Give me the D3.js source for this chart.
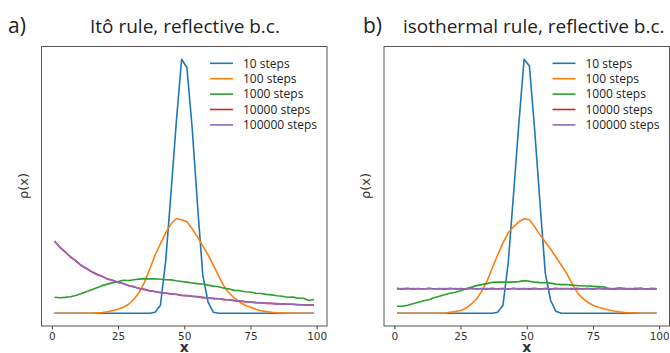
<!DOCTYPE html>
<html>
<head>
<meta charset="utf-8">
<script src="https://cdn.jsdelivr.net/npm/d3@7"></script>
<style>
  body { margin: 0; background: #fff; }
  svg { display: block; }
</style>
</head>
<body>
<div id="container"></div>
<script>
/* CONSTANTS AND GLOBALS */
const width = 670;
const height = 353;

/* DATA (rho in arbitrary units, the plot has no y ticks) */
const xs = [1, 3, 5, 7, 9, 11, 13, 15, 17, 19, 21, 23, 25, 27, 29, 31, 33, 35, 37, 39,
  41, 43, 45, 47, 49, 51, 53, 55, 57, 59, 61, 63, 65, 67, 69, 71, 73, 75, 77, 79,
  81, 83, 85, 87, 89, 91, 93, 95, 97, 99];
const seriesNames = ["10 steps", "100 steps", "1000 steps", "10000 steps", "100000 steps"];
const colors = ["#1f77b4", "#ff7f0e", "#2ca02c", "#d62728", "#9467bd"];
const xTicks = [0, 25, 50, 75, 100];

// panel a) Itô rule
const itoSteps10 = [0, 0, 0, 0, 0, 0, 0, 0, 0, 0, 0, 0, 0, 0, 0, 0, 0, 0, 0,
  1, 8, 52, 120, 190, 252.7, 244.4, 184, 108, 38, 11, 1,
  0, 0, 0, 0, 0, 0, 0, 0, 0, 0, 0, 0, 0, 0, 0, 0, 0, 0, 0];
const itoSteps100 = [0, 0, 0, 0, 0, 0, 0, 0,
  0.4, 0.8, 1.5, 2.7, 4, 6, 9, 14, 21, 31, 44, 58, 69, 80, 89, 94, 93, 91, 84, 76, 67, 58,
  48, 37, 27, 20, 15, 11, 8, 6, 4, 2.5, 1.7, 1, 0.6, 0.3, 0.2, 0.1, 0, 0, 0, 0];
const itoSteps1000 = [16, 15.5, 15.8, 16.5, 17.7, 19.5, 21.5, 23.5, 25.5, 27.5,
  29, 30.5, 31.5, 32.8, 32.6, 33.3, 34, 34.5, 34.2, 34.3,
  33.8, 33.4, 33.2, 32.3, 31.7, 31, 30.2, 29.5, 29.2, 28,
  27, 26.4, 25, 24.2, 22.8, 22.5, 21.5, 21.2, 20, 19.7,
  18.8, 18.3, 17.5, 17, 16, 16.1, 15, 15, 12.7, 13.7];
const itoSteps10000 = [72, 65.6, 61.4, 56, 52.3, 47.6, 44.8, 41.2, 38.6, 36.8,
  34, 32.9, 30.7, 29.6, 27.4, 26.5, 24.6, 23.8, 22.3, 21.7,
  20.5, 20.2, 19.1, 18.9, 17.8, 17.6, 16.8, 16.6, 15.6, 15.4,
  14.6, 14.5, 13.6, 13.4, 12.4, 12.2, 11.5, 11.3, 10.6, 10.5,
  9.9, 9.9, 9.4, 9.5, 9, 9, 8.5, 8.5, 8.1, 8.1];
const itoSteps100000 = [71.7, 66, 61, 56.5, 52, 48, 44.5, 41.5, 39, 36.5,
  34.3, 32.7, 31, 29.3, 27.7, 26.2, 24.8, 23.5, 22.5, 21.5,
  20.8, 20, 19.3, 18.7, 18, 17.5, 17, 16.4, 15.8, 15.3,
  14.8, 14.4, 13.8, 13.2, 12.6, 12.1, 11.6, 11.1, 10.8, 10.4,
  10.1, 9.8, 9.6, 9.4, 9.2, 8.9, 8.6, 8.4, 8.2, 8];

// panel b) isothermal rule
const isoSteps10 = [0, 0, 0, 0, 0, 0, 0, 0, 0, 0, 0, 0, 0, 0, 0, 0, 0, 0, 0,
  1, 7.7, 50, 118, 188, 252.7, 246, 182, 110, 40, 13, 2,
  0, 0, 0, 0, 0, 0, 0, 0, 0, 0, 0, 0, 0, 0, 0, 0, 0, 0, 0];
const isoSteps100 = [0, 0, 0, 0, 0, 0, 0, 0, 0, 0,
  1, 1.8, 2.7, 5, 9, 14, 22, 32, 45, 58,
  70, 80, 86, 91, 94, 93, 86, 78, 71, 64,
  56, 48, 40, 30, 21, 15, 11, 8, 6, 4.5,
  3.2, 2.2, 1.4, 0.8, 0.5, 0.3, 0.1, 0, 0, 0];
const isoSteps1000 = [7, 7, 8, 9.5, 11, 12.5, 13.5, 15.5, 17, 18.5,
  20, 21, 22.5, 24.5, 26, 27.5, 28.5, 29.5, 30.8, 31,
  31, 31, 31.2, 31.5, 32.5, 31.8, 31, 30.5, 30.4, 30,
  29, 28.5, 28.6, 28, 27.7, 27.2, 27.2, 26.8, 26.5, 26.3,
  24.5, 24.3, 25, 24.6, 24.2, 24.8, 24.5, 24.2, 24.5, 24.3];
const isoSteps10000 = [24.8, 24.0, 24.9, 23.9, 24.7, 24.1, 24.9, 24.2, 24.6, 23.9,
  24.8, 24.1, 24.7, 24.0, 24.9, 24.2, 24.6, 24.0, 24.8, 24.1,
  24.7, 23.9, 24.9, 24.2, 24.6, 24.0, 24.8, 24.1, 24.7, 24.0,
  24.9, 24.2, 24.6, 24.0, 24.8, 24.1, 24.7, 23.9, 24.9, 24.2,
  24.6, 24.0, 24.8, 24.1, 24.7, 24.0, 24.9, 24.2, 24.6, 24.4];
const isoSteps100000 = [24.2, 24.5, 24.3, 24.6, 24.4, 24.2, 24.5, 24.4, 24.3, 24.6,
  24.4, 24.5, 24.2, 24.4, 24.6, 24.3, 24.4, 24.5, 24.2, 24.4,
  24.6, 24.3, 24.4, 24.5, 24.3, 24.6, 24.4, 24.2, 24.5, 24.4,
  24.3, 24.6, 24.4, 24.5, 24.2, 24.4, 24.6, 24.3, 24.5, 24.4,
  24.2, 24.5, 24.4, 24.6, 24.3, 24.4, 24.5, 24.2, 24.4, 24.5];

const panels = [
  { letter: "a)", title: "Itô rule, reflective b.c.", left: 41.5, letterX: 8, titleX: 90,
    series: [itoSteps10, itoSteps100, itoSteps1000, itoSteps10000, itoSteps100000] },
  { letter: "b)", title: "isothermal rule, reflective b.c.", left: 384, letterX: 363, titleX: 403,
    series: [isoSteps10, isoSteps100, isoSteps1000, isoSteps10000, isoSteps100000] }
];

const boxW = 285.5;
const boxTop = 46.5;
const boxBottom = 326;

/* HTML ELEMENTS */
const svg = d3.select("#container")
  .append("svg")
  .attr("width", width)
  .attr("height", height)

panels.forEach(p => {
  const g = svg.append("g")

  /* SCALES */
  const xScale = d3.scaleLinear()
    .domain([1 - 0.05 * 98, 99 + 0.05 * 98])
    .range([p.left, p.left + boxW])

  const ymax = d3.max(p.series.flat())
  const yScale = d3.scaleLinear()
    .domain([-0.05 * ymax, 1.05 * ymax])
    .range([boxBottom, boxTop])

  const line = d3.line()
    .x((d, i) => xScale(xs[i]))
    .y(d => yScale(d))

  // lines
  g.selectAll("path.series")
    .data(p.series)
    .join("path")
    .attr("class", "series")
    .attr("d", d => line(d))
    .attr("fill", "none")
    .attr("stroke", (d, i) => colors[i])
    .attr("stroke-width", 1.6)
    .attr("stroke-linejoin", "round")

  // frame
  g.append("rect")
    .attr("x", p.left)
    .attr("y", boxTop)
    .attr("width", boxW)
    .attr("height", boxBottom - boxTop)
    .attr("fill", "none")
    .attr("stroke", "#555")
    .attr("stroke-width", 1)

  /* Axes */
  const xAxis = d3.axisBottom(xScale)
    .tickValues(xTicks)
    .tickSize(3.5)
    .tickPadding(3)

  const ax = g.append("g")
    .attr("transform", `translate(0, ${boxBottom})`)
    .call(xAxis)
  ax.select(".domain").remove()
  ax.selectAll("line").attr("stroke", "#444")
  ax.selectAll("text")
    .attr("fill", "#333")
    .style("font-family", "DejaVu Sans")
    .style("font-size", "10.5px")

  g.append("text")
    .attr("x", (xScale.range()[0] + xScale.range()[1]) / 2)
    .attr("y", 352)
    .attr("text-anchor", "middle")
    .style("font-family", "DejaVu Sans")
    .style("font-weight", "bold")
    .style("font-size", "14px")
    .attr("fill", "#333")
    .text("x")

  g.append("text")
    .attr("transform", `translate(${p.left - 14}, 186) rotate(-90)`)
    .attr("text-anchor", "middle")
    .style("font-family", "DejaVu Sans")
    .style("font-size", "13px")
    .attr("fill", "#333")
    .text("ρ(x)")

  // titles
  g.append("text")
    .attr("x", p.letterX)
    .attr("y", 33)
    .style("font-family", "Open Sans")
    .style("font-size", "21px")
    .attr("fill", "#222")
    .text(p.letter)

  g.append("text")
    .attr("x", p.titleX)
    .attr("y", 33)
    .style("font-family", "Open Sans")
    .style("font-size", "19px")
    .attr("fill", "#222")
    .text(p.title)

  // legend
  const legend = g.append("g")
    .attr("transform", `translate(${p.left + boxW - 117}, 63.3)`)
  const rows = legend.selectAll("g")
    .data(seriesNames)
    .join("g")
    .attr("transform", (d, i) => `translate(0, ${i * 15.4})`)
  rows.append("line")
    .attr("x1", 0).attr("x2", 23)
    .attr("stroke", (d, i) => colors[i])
    .attr("stroke-width", 1.6)
  rows.append("text")
    .attr("x", 33)
    .attr("dy", "0.35em")
    .style("font-family", "Open Sans")
    .style("font-size", "12px")
    .attr("fill", "#222")
    .text(d => d)
})
</script>
</body>
</html>
